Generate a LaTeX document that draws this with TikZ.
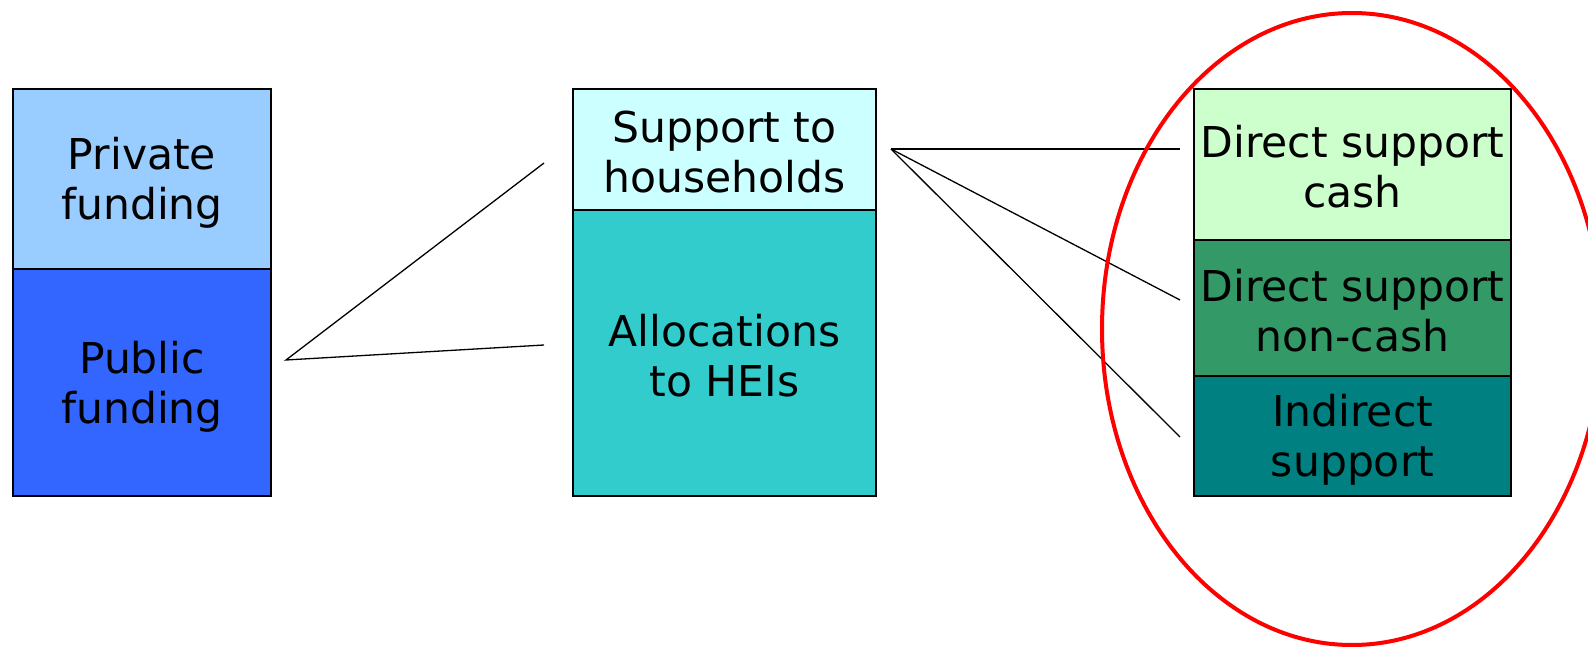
\documentclass[tikz,border=0pt]{standalone}
\usepackage{fontspec}
\setmainfont{DejaVu Sans}
\usetikzlibrary{shapes.geometric}
\definecolor{privc}{HTML}{99CCFF}
\definecolor{pubc}{HTML}{3366FF}
\definecolor{housec}{HTML}{CCFFFF}
\definecolor{allocc}{HTML}{33CCCC}
\definecolor{cashc}{HTML}{CCFFCC}
\definecolor{noncashc}{HTML}{339966}
\definecolor{indc}{HTML}{008080}
\newcommand\lnst{\rule[-4pt]{0pt}{44pt}}
\begin{document}
\begin{tikzpicture}[x=1pt,y=-1pt,
  blockbox/.style={draw=black, line width=1.5pt, inner sep=0pt, outer sep=0pt, align=center,
    font=\fontsize{42.5}{50}\selectfont},
  link/.style={draw=black, line width=1.3pt},
  ring/.style={draw=red, line width=4pt}]
\useasboundingbox (0,0) rectangle (1588,647);
% left column
\node[blockbox, fill=privc, minimum width=258pt, minimum height=180pt] (priv) at (142,179) {\lnst Private\\\lnst funding};
\node[blockbox, fill=pubc, minimum width=258pt, minimum height=227pt] (pub) at (142,382.5) {\lnst Public\\\lnst funding};
% middle column
\node[blockbox, fill=allocc, minimum width=303pt, minimum height=286pt] (alloc) at (724.5,353) {\lnst Allocations\\\lnst to HEIs};
\node[blockbox, fill=housec, minimum width=303pt, minimum height=121pt] (house) at (724.5,149.5) {\lnst Support to\\\lnst households};
% right column
\node[blockbox, fill=cashc, minimum width=317pt, minimum height=151pt] (cash) at (1352.5,164.5) {\lnst Direct support\\\lnst cash};
\node[blockbox, fill=noncashc, minimum width=317pt, minimum height=136pt] (noncash) at (1352.5,308) {\lnst Direct support\\\lnst non-cash};
\node[blockbox, fill=indc, minimum width=317pt, minimum height=120pt] (ind) at (1352.5,436) {\lnst Indirect\\\lnst support};
% connector coordinates
\coordinate (lfan) at (286,360);
\coordinate (lup) at (544,163);
\coordinate (llow) at (544,345);
\coordinate (rfan) at (891,149);
\coordinate (rcash) at (1180,149);
\coordinate (rnon) at (1180,300);
\coordinate (rind) at (1180,437);
\draw[link] (lup) -- (lfan) -- (llow);
\draw[link] (rfan) -- (rcash);
\draw[link] (rfan) -- (rnon);
\draw[link] (rfan) -- (rind);
% red ellipse
\node[ring, ellipse, minimum width=500pt, minimum height=632pt, inner sep=0pt] (circ) at (1352,329) {};
\end{tikzpicture}
\end{document}
